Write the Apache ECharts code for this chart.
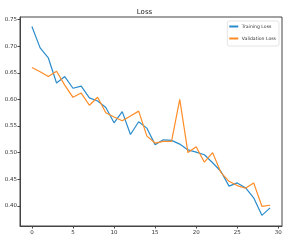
<!DOCTYPE html>
<html><head><meta charset="utf-8">
<script src="https://cdn.jsdelivr.net/npm/echarts@6/dist/echarts.min.js"></script>
<style>html,body{margin:0;padding:0;background:#fff}#c{width:289px;height:242px}</style>
</head><body><div id="c"></div>
<script>
const epochs = [0,1,2,3,4,5,6,7,8,9,10,11,12,13,14,15,16,17,18,19,20,21,22,23,24,25,26,27,28,29];
const trainingLoss = [0.737,0.697,0.678,0.631,0.643,0.621,0.625,0.603,0.597,0.585,0.556,0.577,0.534,0.558,0.546,0.515,0.524,0.523,0.516,0.505,0.501,0.496,0.481,0.465,0.437,0.443,0.434,0.415,0.382,0.396];
const validationLoss = [0.660,0.652,0.643,0.653,0.627,0.604,0.612,0.589,0.604,0.575,0.567,0.560,0.569,0.578,0.531,0.518,0.521,0.521,0.600,0.500,0.511,0.482,0.500,0.463,0.446,0.438,0.433,0.443,0.399,0.401];
const xTicks = [0,5,10,15,20,25,30];
const yTicks = [0.40,0.45,0.50,0.55,0.60,0.65,0.70,0.75];

const chart = echarts.init(document.getElementById('c'), null, {renderer:'canvas'});
const font = 'DejaVu Sans';
chart.setOption({
  animation:false,
  title:{text:'Loss', left:'center', top:4, textStyle:{fontFamily:font, fontSize:7, fontWeight:'normal', color:'#222'}},
  legend:{
    right:10, top:21, orient:'vertical', itemWidth:9, itemHeight:2, itemGap:7,
    borderColor:'#ddd', borderWidth:0.8, borderRadius:2, padding:[3,3,5,2],
    textStyle:{fontFamily:font, fontSize:4.6, color:'#333', padding:[0,0,0,-1.5]},
    icon:'rect',
    data:['Training Loss','Validation Loss']
  },
  grid:{left:20, right:7, top:17, bottom:16, show:true, borderColor:'#444', borderWidth:1},
  xAxis:{
    type:'value', min:-1.45, max:30.45,
    splitLine:{show:false},
    axisLine:{show:true, onZero:false, lineStyle:{color:'#444'}},
    axisTick:{show:true, length:2.5, customValues:xTicks, lineStyle:{color:'#444'}},
    axisLabel:{customValues:xTicks, fontFamily:font, fontSize:5.5, color:'#333', margin:4}
  },
  yAxis:{
    type:'value', min:0.362, max:0.755,
    splitLine:{show:false},
    axisLine:{show:true, onZero:false, lineStyle:{color:'#444'}},
    axisTick:{show:true, length:2.5, customValues:yTicks, lineStyle:{color:'#444'}},
    axisLabel:{customValues:yTicks, fontFamily:font, fontSize:5.5, color:'#333', margin:3,
      formatter:v=>v.toFixed(2)}
  },
  series:[
    {name:'Training Loss', type:'line', data:epochs.map((e,i)=>[e,trainingLoss[i]]),
      showSymbol:false, lineStyle:{color:'#2a8ccc', width:1.2}, itemStyle:{color:'#2a8ccc'}},
    {name:'Validation Loss', type:'line', data:epochs.map((e,i)=>[e,validationLoss[i]]),
      showSymbol:false, lineStyle:{color:'#ff8c26', width:1.2}, itemStyle:{color:'#ff8c26'}}
  ]
});
</script></body></html>
